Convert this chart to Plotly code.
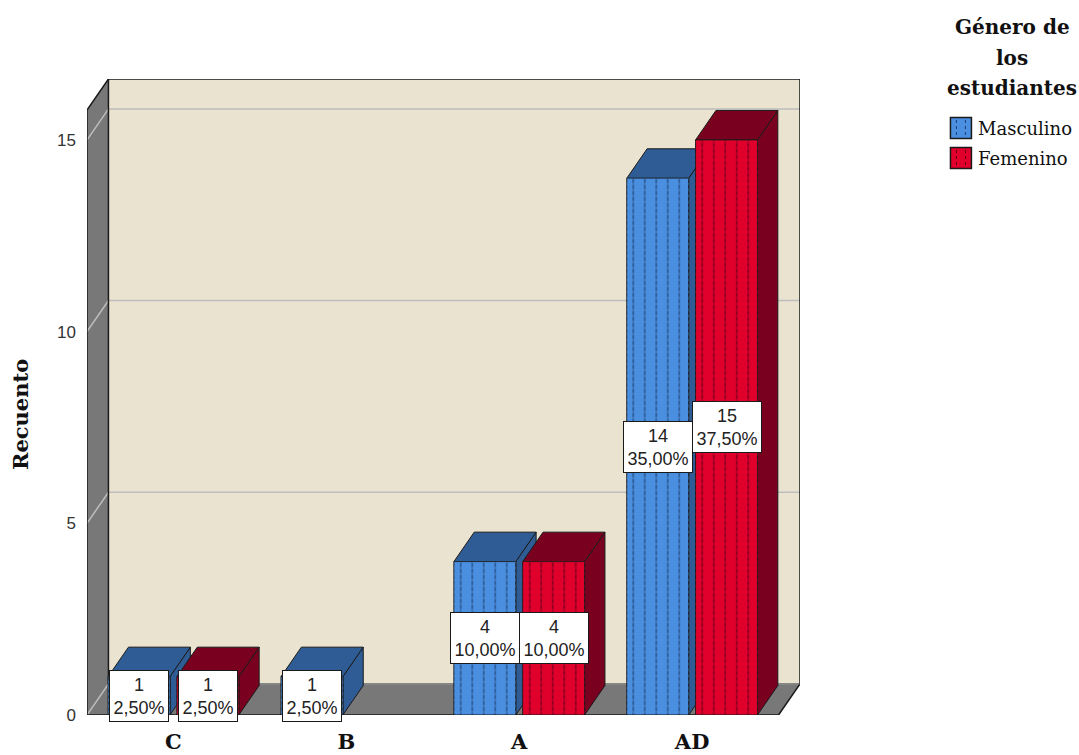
import plotly.graph_objects as go

# ---- data -------------------------------------------------------------
categories = ["C", "B", "A", "AD"]
masculino = [1, 1, 4, 14]
femenino = [1, 0, 4, 15]
series_names = ["Masculino", "Femenino"]
y_ticks = [0, 5, 10, 15]
axis_title = "Recuento"
legend_title_lines = ["Género de", "los", "estudiantes"]

# ---- style ------------------------------------------------------------
FRONT = {"Masculino": "#4A8FE0", "Femenino": "#E0002B"}
DARK = {"Masculino": "#2F5C94", "Femenino": "#7A0020"}
PATTERN = {"Masculino": "#1F3F70", "Femenino": "#5E0018"}
WALL = "#EAE3CF"
SIDE = "#787878"
EDGE = "#1A1A1A"
GRID = "#BDBDBD"
SERIF = "DejaVu Serif"
SANS = "Liberation Sans"

# oblique projection: depth shift expressed in data units
DX = 0.124
DY = 0.81
Y_TOP = 15.78
X_LO, X_HI = -0.5, len(categories) - 0.5
BAR_W = 0.358
GAP = 0.04
DEPTH = 0.95
OFFSETS = {"Masculino": -GAP / 2 - BAR_W, "Femenino": GAP / 2}

# pixel frame of the plotting area
W_PX, H_PX = 1079, 755
L_PX, T_PX, B_PX = 87, 79, 40
X_RANGE = [X_LO, X_HI + DX]
Y_RANGE = [0, Y_TOP + DY]
PX_PER_X = 173.0
plot_w = (X_RANGE[1] - X_RANGE[0]) * PX_PER_X
plot_h = H_PX - T_PX - B_PX
R_PX = W_PX - L_PX - plot_w


def paper_x(px):
    return (px - L_PX) / plot_w


def paper_y(py):
    return (H_PX - B_PX - py) / plot_h


def poly(points):
    return "M " + " L ".join(f"{x},{y}" for x, y in points) + " Z"


def line(points):
    return "M " + " L ".join(f"{x},{y}" for x, y in points)


series = {"Masculino": masculino, "Femenino": femenino}
total = sum(masculino) + sum(femenino)

shapes = []
# left wall, back wall, floor
shapes.append(dict(type="path", layer="below", fillcolor=SIDE, line=dict(width=0),
                   path=poly([(X_LO, 0), (X_LO, Y_TOP), (X_LO + DX, Y_TOP + DY), (X_LO + DX, DY)])))
shapes.append(dict(type="path", layer="below", fillcolor=WALL, line=dict(width=0),
                   path=poly([(X_LO + DX, DY), (X_HI + DX, DY), (X_HI + DX, Y_TOP + DY), (X_LO + DX, Y_TOP + DY)])))
shapes.append(dict(type="path", layer="below", fillcolor=SIDE, line=dict(width=0),
                   path=poly([(X_LO, 0), (X_HI, 0), (X_HI + DX, DY), (X_LO + DX, DY)])))
# grid lines running across the left wall and the back wall
for v in y_ticks:
    shapes.append(dict(type="path", layer="below", line=dict(color=GRID, width=1.5),
                       path=line([(X_LO, v), (X_LO + DX, v + DY), (X_HI + DX, v + DY)])))
# box edges
shapes.append(dict(type="path", layer="below", line=dict(color=EDGE, width=1.5),
                   path=line([(X_LO, 0), (X_LO, Y_TOP), (X_LO + DX, Y_TOP + DY),
                              (X_HI + DX, Y_TOP + DY), (X_HI + DX, DY), (X_HI, 0), (X_LO, 0)])))
shapes.append(dict(type="path", layer="below", line=dict(color=EDGE, width=1.5),
                   path=line([(X_LO + DX, DY), (X_LO + DX, Y_TOP + DY)])))
shapes.append(dict(type="path", layer="below", line=dict(color="#555555", width=1),
                   path=line([(X_LO + DX, DY), (X_HI + DX, DY)])))

# top and side faces of every bar
bdx, bdy = DX * DEPTH, DY * DEPTH
for i, cat in enumerate(categories):
    for name in series_names:
        v = series[name][i]
        if not v:
            continue
        x0 = i + OFFSETS[name]
        x1 = x0 + BAR_W
        shapes.append(dict(type="path", layer="below", fillcolor=DARK[name],
                           line=dict(color=EDGE, width=1),
                           path=poly([(x1, 0), (x1, v), (x1 + bdx, v + bdy), (x1 + bdx, bdy)])))
        shapes.append(dict(type="path", layer="below", fillcolor=DARK[name],
                           line=dict(color=EDGE, width=1),
                           path=poly([(x0, v), (x1, v), (x1 + bdx, v + bdy), (x0 + bdx, v + bdy)])))

fig = go.Figure()
for name in series_names:
    vals = [v if v else None for v in series[name]]
    # front faces with vertical stripes
    fig.add_trace(go.Bar(
        name=name, x=categories, y=vals,
        width=BAR_W, offset=OFFSETS[name],
        marker=dict(color=FRONT[name], line=dict(color=EDGE, width=1),
                    pattern=dict(shape="|", size=11.5, solidity=0.12,
                                 fgcolor=PATTERN[name], fgopacity=0.85)),
        hoverinfo="skip", cliponaxis=False, showlegend=False,
    ))
    # horizontal breaks in the face colour turn the stripes into dashes
    fig.add_trace(go.Bar(
        name=name, x=categories, y=vals,
        width=BAR_W, offset=OFFSETS[name],
        marker=dict(color="rgba(0,0,0,0)", line=dict(width=0),
                    pattern=dict(shape="-", size=6, solidity=0.45,
                                 fgcolor=FRONT[name], bgcolor="rgba(0,0,0,0)")),
        hoverinfo="skip", cliponaxis=False, showlegend=False,
    ))

annotations = []
# value labels on the bars
for i, cat in enumerate(categories):
    for name in series_names:
        v = series[name][i]
        if not v:
            continue
        pct = f"{100 * v / total:.2f}".replace(".", ",") + "%"
        annotations.append(dict(
            x=i + OFFSETS[name] + BAR_W / 2, y=v / 2, xref="x", yref="y",
            text=f"{v}<br>{pct}", showarrow=False,
            font=dict(family=SANS, size=18, color="#222222"),
            bgcolor="white", bordercolor=EDGE, borderwidth=1, borderpad=3.5,
        ))

# axis title
annotations.append(dict(
    x=paper_x(20), y=paper_y(415), xref="paper", yref="paper",
    xanchor="center", yanchor="middle",
    text=f"<b>{axis_title}</b>", textangle=-90, showarrow=False,
    font=dict(family=SERIF, size=21, color="#111111"),
))
# legend heading
for k, txt in enumerate(legend_title_lines):
    annotations.append(dict(
        x=paper_x(1013), y=paper_y(27 + 30.5 * k), xref="paper", yref="paper",
        text=f"<b>{txt}</b>", showarrow=False, xanchor="center", yanchor="middle",
        font=dict(family=SERIF, size=20, color="#111111"),
    ))
# legend entries: swatch + name
for k, name in enumerate(series_names):
    cy = 128 + 30 * k
    shapes.append(dict(type="rect", xref="paper", yref="paper",
                       x0=paper_x(951), x1=paper_x(972),
                       y0=paper_y(cy - 10.5), y1=paper_y(cy + 10.5),
                       fillcolor=FRONT[name], line=dict(color=EDGE, width=1.5)))
    for sx in (957, 966):
        shapes.append(dict(type="line", xref="paper", yref="paper",
                           x0=paper_x(sx), x1=paper_x(sx),
                           y0=paper_y(cy - 8), y1=paper_y(cy + 8),
                           line=dict(color=PATTERN[name], width=1, dash="dot")))
    annotations.append(dict(
        x=paper_x(977), y=paper_y(cy), xref="paper", yref="paper",
        text=name, showarrow=False, xanchor="left", yanchor="middle",
        font=dict(family=SERIF, size=18, color="#111111"),
    ))

fig.update_layout(
    width=W_PX, height=H_PX,
    margin=dict(l=L_PX, r=R_PX, t=T_PX, b=B_PX, autoexpand=False),
    paper_bgcolor="white", plot_bgcolor="white",
    barmode="overlay",
    shapes=shapes, annotations=annotations,
    showlegend=False,
    xaxis=dict(
        type="category", categoryorder="array", categoryarray=categories,
        range=X_RANGE, showgrid=False, zeroline=False, showline=False,
        ticks="", ticklabelstandoff=12,
        tickfont=dict(family=SERIF, size=21, color="#111111"),
        tickprefix="<b>", ticksuffix="</b>",
    ),
    yaxis=dict(
        range=Y_RANGE, tickmode="array", tickvals=y_ticks,
        showgrid=False, zeroline=False, showline=False,
        ticks="", ticklabelstandoff=10,
        tickfont=dict(family=SANS, size=17, color="#333333"),
    ),
)

fig.write_html("out.html")
